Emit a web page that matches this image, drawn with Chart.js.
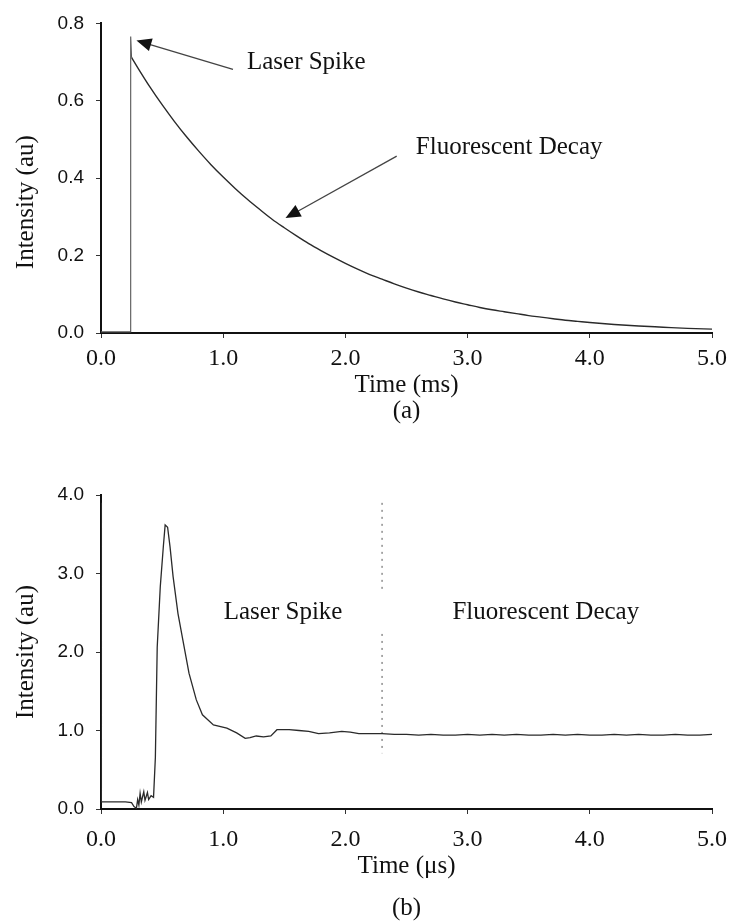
<!DOCTYPE html>
<html>
<head>
<meta charset="utf-8">
<script src="https://cdn.jsdelivr.net/npm/chart.js@4.4.1/dist/chart.umd.min.js"></script>
<style>
  body { margin: 0; background: #fff; width: 733px; height: 921px; position: relative; overflow: hidden; }
  .box { position: absolute; left: 0; width: 733px; }
  .cap { position: absolute; left: 101px; width: 611px; text-align: center; line-height: 24px;
         font: 25px "Liberation Serif", "Times New Roman", serif; color: #111; }
</style>
</head>
<body>
<div class="box" style="top:0;height:440px"><canvas id="chartA" width="733" height="440"></canvas></div>
<div class="cap" style="top:396px">(a)</div>
<div class="box" style="top:460px;height:461px"><canvas id="chartB" width="733" height="461"></canvas></div>
<div class="cap" style="top:893px">(b)</div>
<script>
// (a) baseline and laser spike, time in ms
const aSpikeTime = [0, 0.1, 0.2, 0.24, 0.243, 0.25];
const aSpikeLevel = [0.003, 0.003, 0.003, 0.003, 0.766, 0.712];
// (a) fluorescent decay
const aTime = [0.25, 0.3, 0.4, 0.5, 0.6, 0.7, 0.8, 0.9, 1.0,
  1.1, 1.2, 1.3, 1.4, 1.5, 1.6, 1.7, 1.8, 1.9, 2.0, 2.1, 2.2, 2.3, 2.4, 2.5, 2.6, 2.7,
  2.8, 2.9, 3.0, 3.1, 3.2, 3.3, 3.4, 3.5, 3.6, 3.7, 3.8, 3.9, 4.0, 4.2, 4.4, 4.6, 4.8, 5.0];
const aIntensity = [0.712, 0.686, 0.636, 0.590, 0.547,
  0.507, 0.470, 0.435, 0.403, 0.373, 0.345, 0.319, 0.294, 0.272, 0.251, 0.231, 0.213,
  0.196, 0.180, 0.165, 0.151, 0.139, 0.127, 0.116, 0.106, 0.097, 0.088, 0.080, 0.073,
  0.066, 0.060, 0.055, 0.050, 0.045, 0.041, 0.037, 0.033, 0.030, 0.027, 0.022, 0.018,
  0.015, 0.012, 0.010];
const aTicksY = [0, 0.2, 0.4, 0.6, 0.8];

// (b) spike + decay trace, time in us
const bTime = [0, 0.003, 0.05, 0.1, 0.15, 0.2, 0.25, 0.27, 0.29, 0.3, 0.31, 0.32, 0.33,
  0.35, 0.36, 0.38, 0.39, 0.41, 0.43, 0.445, 0.46, 0.485, 0.51, 0.525, 0.545, 0.565,
  0.59, 0.63, 0.67, 0.72, 0.78, 0.83, 0.92, 1.03, 1.11, 1.18, 1.22, 1.27, 1.33, 1.39,
  1.44, 1.54, 1.62, 1.7, 1.78, 1.87, 1.97, 2.04, 2.11, 2.2, 2.3, 2.4, 2.5, 2.6, 2.7,
  2.8, 2.9, 3.0, 3.1, 3.2, 3.3, 3.4, 3.5, 3.6, 3.7, 3.8, 3.9, 4.0, 4.1, 4.2, 4.3, 4.4,
  4.5, 4.6, 4.7, 4.8, 4.9, 5.0];
const bIntensity = [3.90, 0.09, 0.09, 0.09, 0.09, 0.09, 0.08, 0.03, 0.01, 0.12, 0.05,
  0.20, 0.09, 0.22, 0.11, 0.21, 0.12, 0.17, 0.15, 0.66, 2.06, 2.83, 3.34, 3.62, 3.59,
  3.34, 2.96, 2.49, 2.15, 1.73, 1.39, 1.20, 1.07, 1.03, 0.97, 0.90, 0.91, 0.93, 0.92,
  0.93, 1.01, 1.01, 1.00, 0.99, 0.96, 0.97, 0.99, 0.98, 0.96, 0.96, 0.96, 0.95, 0.95,
  0.94, 0.95, 0.94, 0.94, 0.95, 0.94, 0.95, 0.94, 0.95, 0.94, 0.94, 0.95, 0.94, 0.95,
  0.94, 0.94, 0.95, 0.94, 0.95, 0.94, 0.94, 0.95, 0.94, 0.94, 0.95];
const bTicksY = [0, 1, 2, 3, 4];
// dotted boundary between spike and decay
const bMarkTime = [2.3, 2.3, 2.3, 2.3, 2.3];
const bMarkLevel = [3.9, 2.77, null, 2.23, 0.71];

const xTicks = [0, 1, 2, 3, 4, 5];

const serif = '"Liberation Serif", "Times New Roman", serif';
const sans = '"Liberation Sans", Arial, sans-serif';

function pts(xs, ys) {
  return xs.map((x, i) => ({ x: x, y: ys[i] }));
}

// text labels, arrows and the y title, placed in data coordinates
const notes = {
  id: 'notes',
  afterDatasetsDraw(chart, args, opts) {
    const ctx = chart.ctx;
    const sx = chart.scales.x, sy = chart.scales.y;
    ctx.save();
    (opts.arrows || []).forEach(a => {
      const x1 = sx.getPixelForValue(a.from[0]), y1 = sy.getPixelForValue(a.from[1]);
      const x2 = sx.getPixelForValue(a.to[0]), y2 = sy.getPixelForValue(a.to[1]);
      const ang = Math.atan2(y2 - y1, x2 - x1);
      const c = Math.cos(ang), s = Math.sin(ang);
      ctx.strokeStyle = '#444';
      ctx.lineWidth = 1.3;
      ctx.beginPath();
      ctx.moveTo(x1, y1);
      ctx.lineTo(x2 - 10 * c, y2 - 10 * s);
      ctx.stroke();
      ctx.fillStyle = '#111';
      ctx.beginPath();
      ctx.moveTo(x2, y2);
      ctx.lineTo(x2 - 15 * c + 6.5 * s, y2 - 15 * s - 6.5 * c);
      ctx.lineTo(x2 - 15 * c - 6.5 * s, y2 - 15 * s + 6.5 * c);
      ctx.closePath();
      ctx.fill();
    });
    ctx.fillStyle = '#111';
    ctx.font = '25px ' + serif;
    ctx.textAlign = 'center';
    ctx.textBaseline = 'middle';
    (opts.labels || []).forEach(l => {
      ctx.fillText(l.text, sx.getPixelForValue(l.x), sy.getPixelForValue(l.y));
    });
    if (opts.yTitle) {
      ctx.translate(26, sy.getPixelForValue(opts.yTitle.y));
      ctx.rotate(-Math.PI / 2);
      ctx.fillText(opts.yTitle.text, 0, 0);
    }
    ctx.restore();
  }
};

function axes(yMax, yTicks, xTitle, xBoxHeight, tickPad) {
  return {
    x: {
      type: 'linear', min: 0, max: 5,
      afterFit: s => { s.height = xBoxHeight; s.paddingLeft = 0; s.paddingRight = 0; },
      afterBuildTicks: s => { s.ticks = xTicks.map(v => ({ value: v })); },
      border: { color: '#111', width: 2 },
      grid: { drawOnChartArea: false, tickLength: 5, color: '#333', lineWidth: 1 },
      ticks: { color: '#111', font: { family: serif, size: 24 }, padding: tickPad, maxRotation: 0,
               callback: v => v.toFixed(1) },
      title: { display: true, text: xTitle, color: '#111', font: { family: serif, size: 25 },
               padding: { top: 0, bottom: 40 } }
    },
    y: {
      type: 'linear', min: 0, max: yMax,
      afterFit: s => { s.width = 101; },
      afterBuildTicks: s => { s.ticks = yTicks.map(v => ({ value: v })); },
      border: { color: '#111', width: 2 },
      grid: { drawOnChartArea: false, tickLength: 5, color: '#333', lineWidth: 1 },
      ticks: { color: '#111', font: { family: sans, size: 19 }, padding: 12,
               callback: v => v.toFixed(1) },
      title: { display: false }
    }
  };
}

new Chart(document.getElementById('chartA'), {
  type: 'line',
  data: {
    datasets: [{
      data: pts(aSpikeTime, aSpikeLevel),
      borderColor: '#555', borderWidth: 1.1, pointRadius: 0, tension: 0, fill: false
    }, {
      data: pts(aTime, aIntensity),
      borderColor: '#2a2a2a', borderWidth: 1.4, pointRadius: 0,
      cubicInterpolationMode: 'monotone', fill: false
    }]
  },
  options: {
    responsive: false, animation: false, devicePixelRatio: 1,
    layout: { padding: { top: 23, right: 21, left: 0, bottom: 0 } },
    scales: axes(0.8, aTicksY, 'Time (ms)', 107, 6),
    plugins: {
      legend: { display: false }, tooltip: { enabled: false },
      notes: {
        yTitle: { text: 'Intensity (au)', y: 0.338 },
        labels: [{ text: 'Laser Spike', x: 1.68, y: 0.70 },
                 { text: 'Fluorescent Decay', x: 3.34, y: 0.48 }],
        arrows: [{ from: [1.08, 0.681], to: [0.29, 0.756] },
                 { from: [2.42, 0.457], to: [1.51, 0.297] }]
      }
    }
  },
  plugins: [notes]
});

new Chart(document.getElementById('chartB'), {
  type: 'line',
  data: {
    datasets: [{
      data: pts(bTime, bIntensity),
      borderColor: '#2a2a2a', borderWidth: 1.3, pointRadius: 0, tension: 0, fill: false
    }, {
      data: pts(bMarkTime, bMarkLevel),
      borderColor: '#555', borderWidth: 1, borderDash: [2, 5], pointRadius: 0, spanGaps: false
    }]
  },
  options: {
    responsive: false, animation: false, devicePixelRatio: 1,
    layout: { padding: { top: 35, right: 21, left: 0, bottom: 0 } },
    scales: axes(4, bTicksY, 'Time (\u03bcs)', 112, 11),
    plugins: {
      legend: { display: false }, tooltip: { enabled: false },
      notes: {
        yTitle: { text: 'Intensity (au)', y: 2.0 },
        labels: [{ text: 'Laser Spike', x: 1.49, y: 2.51 },
                 { text: 'Fluorescent Decay', x: 3.64, y: 2.51 }]
      }
    }
  },
  plugins: [notes]
});
</script>
</body>
</html>
